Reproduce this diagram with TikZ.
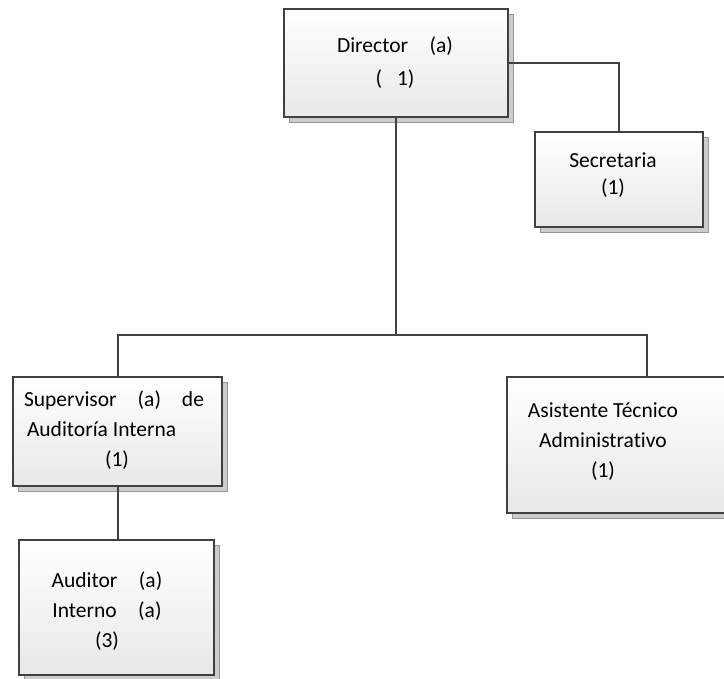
\documentclass[tikz,border=0pt]{standalone}
\usepackage{fontspec}
\setmainfont{Carlito}[Ligatures=NoCommon]
\usetikzlibrary{shadows}
\definecolor{edge}{HTML}{404040}
\begin{document}
\begin{tikzpicture}[x=1pt, y=-1pt,
    box/.style={rectangle, draw=edge, line width=2pt, top color=white, bottom color=black!9,
        drop shadow={shadow xshift=5pt, shadow yshift=-5pt, fill=black!20, draw=black!40, line width=0.8pt, opacity=1}},
    txt/.style={align=center, inner sep=0pt, font=\fontsize{21.5pt}{30pt}\selectfont},
    conn/.style={draw=edge, line width=2pt}]
    \useasboundingbox (0,0) rectangle (724,679);

    % Boxes
    \node[box, minimum width=224pt, minimum height=108pt] (dir) at (396,63) {};
    \node[box, minimum width=168pt, minimum height=95pt] (sec) at (619,179.5) {};
    \node[box, minimum width=209pt, minimum height=109pt] (sup) at (117.5,431.5) {};
    \node[box, minimum width=230pt, minimum height=136pt] (asi) at (622,445) {};
    \node[box, minimum width=195pt, minimum height=135pt] (aud) at (116.5,607.5) {};

    % Texts
    \node[txt, font=\fontsize{21.5pt}{33pt}\selectfont] (dirtxt) at (395,63) {Director\quad(a)\\(\hspace{0.7em}1)};
    \node[txt, font=\fontsize{21.5pt}{27pt}\selectfont] (sectxt) at (613,175) {Secretaria\\(1)};
    \node[txt] (suptxt) at (114,430) {\makebox[180pt][s]{Supervisor\ \ (a)\ \ de}\\
        \makebox[180pt][l]{\hspace{3pt}Auditoría Interna}\\\hspace{6pt}(1)};
    \node[txt] (asitxt) at (603,442) {Asistente Técnico\\Administrativo\\(1)};
    \node[txt] (audtxt) at (107,611) {Auditor\quad(a)\\Interno\quad(a)\\(3)};

    % Lines
    \coordinate (bus) at (396,335);
    \draw[conn] (dir.east) -| (sec.north);
    \draw[conn] (dir.south) -- (bus);
    \draw[conn] (sup.north) |- (bus) -| ([xshift=25pt]asi.north);
    \draw[conn] (sup.south) -- (sup.south |- aud.north);
\end{tikzpicture}
\end{document}
